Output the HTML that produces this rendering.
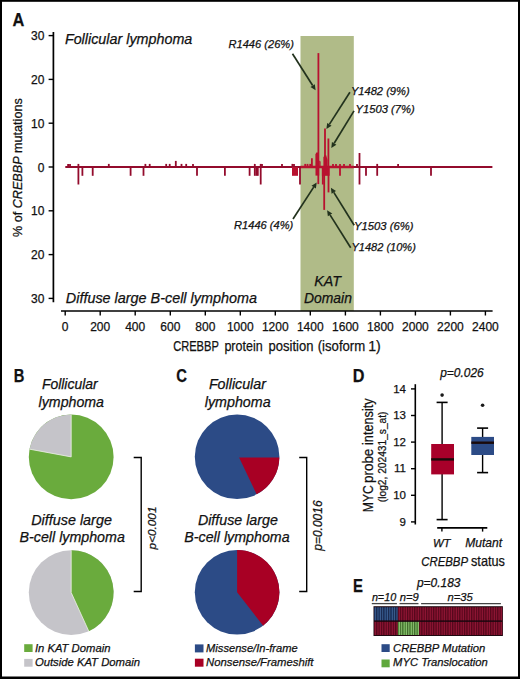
<!DOCTYPE html>
<html><head><meta charset="utf-8"><style>
html,body{margin:0;padding:0;background:#fff;}
body{width:520px;height:679px;overflow:hidden;position:relative;}
svg{position:absolute;left:0;top:0;}
text{font-family:"Liberation Sans", sans-serif;fill:#111;stroke:#111;stroke-width:0.25px;}
</style></head><body>
<svg width="520" height="679" viewBox="0 0 520 679">
<rect x="0" y="0" width="520" height="679" fill="#fff"/>
<rect x="300.5" y="36" width="53.3" height="275" fill="#b0bb88"/>
<line x1="53.4" y1="32" x2="53.4" y2="302.3" stroke="#000" stroke-width="1.7"/>
<line x1="48.6" y1="35.6" x2="53.4" y2="35.6" stroke="#000" stroke-width="1.4"/>
<text x="44.4" y="40.2" text-anchor="end" font-size="12">30</text>
<line x1="48.6" y1="79.4" x2="53.4" y2="79.4" stroke="#000" stroke-width="1.4"/>
<text x="44.4" y="84.0" text-anchor="end" font-size="12">20</text>
<line x1="48.6" y1="123.2" x2="53.4" y2="123.2" stroke="#000" stroke-width="1.4"/>
<text x="44.4" y="127.8" text-anchor="end" font-size="12">10</text>
<line x1="48.6" y1="167.0" x2="53.4" y2="167.0" stroke="#000" stroke-width="1.4"/>
<text x="44.4" y="171.6" text-anchor="end" font-size="12">0</text>
<line x1="48.6" y1="210.8" x2="53.4" y2="210.8" stroke="#000" stroke-width="1.4"/>
<text x="44.4" y="215.4" text-anchor="end" font-size="12">10</text>
<line x1="48.6" y1="254.6" x2="53.4" y2="254.6" stroke="#000" stroke-width="1.4"/>
<text x="44.4" y="259.2" text-anchor="end" font-size="12">20</text>
<line x1="48.6" y1="298.4" x2="53.4" y2="298.4" stroke="#000" stroke-width="1.4"/>
<text x="44.4" y="303.0" text-anchor="end" font-size="12">30</text>
<line x1="61" y1="311" x2="492.6" y2="311" stroke="#000" stroke-width="1.7"/>
<line x1="65.2" y1="311" x2="65.2" y2="315.5" stroke="#000" stroke-width="1.4"/>
<text x="65.2" y="330.8" text-anchor="middle" font-size="12">0</text>
<line x1="100.2" y1="311" x2="100.2" y2="315.5" stroke="#000" stroke-width="1.4"/>
<text x="100.2" y="330.8" text-anchor="middle" font-size="12">200</text>
<line x1="135.2" y1="311" x2="135.2" y2="315.5" stroke="#000" stroke-width="1.4"/>
<text x="135.2" y="330.8" text-anchor="middle" font-size="12">400</text>
<line x1="170.3" y1="311" x2="170.3" y2="315.5" stroke="#000" stroke-width="1.4"/>
<text x="170.3" y="330.8" text-anchor="middle" font-size="12">600</text>
<line x1="205.3" y1="311" x2="205.3" y2="315.5" stroke="#000" stroke-width="1.4"/>
<text x="205.3" y="330.8" text-anchor="middle" font-size="12">800</text>
<line x1="240.3" y1="311" x2="240.3" y2="315.5" stroke="#000" stroke-width="1.4"/>
<text x="240.3" y="330.8" text-anchor="middle" font-size="12">1000</text>
<line x1="275.3" y1="311" x2="275.3" y2="315.5" stroke="#000" stroke-width="1.4"/>
<text x="275.3" y="330.8" text-anchor="middle" font-size="12">1200</text>
<line x1="310.3" y1="311" x2="310.3" y2="315.5" stroke="#000" stroke-width="1.4"/>
<text x="310.3" y="330.8" text-anchor="middle" font-size="12">1400</text>
<line x1="345.4" y1="311" x2="345.4" y2="315.5" stroke="#000" stroke-width="1.4"/>
<text x="345.4" y="330.8" text-anchor="middle" font-size="12">1600</text>
<line x1="380.4" y1="311" x2="380.4" y2="315.5" stroke="#000" stroke-width="1.4"/>
<text x="380.4" y="330.8" text-anchor="middle" font-size="12">1800</text>
<line x1="415.4" y1="311" x2="415.4" y2="315.5" stroke="#000" stroke-width="1.4"/>
<text x="415.4" y="330.8" text-anchor="middle" font-size="12">2000</text>
<line x1="450.4" y1="311" x2="450.4" y2="315.5" stroke="#000" stroke-width="1.4"/>
<text x="450.4" y="330.8" text-anchor="middle" font-size="12">2200</text>
<line x1="485.4" y1="311" x2="485.4" y2="315.5" stroke="#000" stroke-width="1.4"/>
<text x="485.4" y="330.8" text-anchor="middle" font-size="12">2400</text>
<line x1="65.3" y1="167.0" x2="492.4" y2="167.0" stroke="#930b2c" stroke-width="2.1"/>
<line x1="300.5" y1="167.0" x2="353.8" y2="167.0" stroke="#b8112f" stroke-width="2.3"/>
<line x1="68.1" y1="167.0" x2="68.1" y2="163.9" stroke="#930b2c" stroke-width="1.8"/>
<line x1="70.0" y1="167.0" x2="70.0" y2="163.9" stroke="#930b2c" stroke-width="1.8"/>
<line x1="78.4" y1="167.0" x2="78.4" y2="163.9" stroke="#930b2c" stroke-width="1.8"/>
<line x1="108.8" y1="167.0" x2="108.8" y2="163.9" stroke="#930b2c" stroke-width="1.8"/>
<line x1="145.4" y1="167.0" x2="145.4" y2="163.9" stroke="#930b2c" stroke-width="1.8"/>
<line x1="149.7" y1="167.0" x2="149.7" y2="163.9" stroke="#930b2c" stroke-width="1.8"/>
<line x1="166.2" y1="167.0" x2="166.2" y2="163.9" stroke="#930b2c" stroke-width="1.8"/>
<line x1="169.7" y1="167.0" x2="169.7" y2="163.9" stroke="#930b2c" stroke-width="1.8"/>
<line x1="181.5" y1="167.0" x2="181.5" y2="163.9" stroke="#930b2c" stroke-width="1.8"/>
<line x1="186.2" y1="167.0" x2="186.2" y2="163.9" stroke="#930b2c" stroke-width="1.8"/>
<line x1="193.0" y1="167.0" x2="193.0" y2="163.9" stroke="#930b2c" stroke-width="1.8"/>
<line x1="254.8" y1="167.0" x2="254.8" y2="163.9" stroke="#930b2c" stroke-width="1.8"/>
<line x1="260.7" y1="167.0" x2="260.7" y2="163.9" stroke="#930b2c" stroke-width="1.8"/>
<line x1="262.0" y1="167.0" x2="262.0" y2="163.9" stroke="#930b2c" stroke-width="1.8"/>
<line x1="282.0" y1="167.0" x2="282.0" y2="163.9" stroke="#930b2c" stroke-width="1.8"/>
<line x1="292.4" y1="167.0" x2="292.4" y2="163.9" stroke="#930b2c" stroke-width="1.8"/>
<line x1="294.0" y1="167.0" x2="294.0" y2="163.9" stroke="#930b2c" stroke-width="1.8"/>
<line x1="357.0" y1="167.0" x2="357.0" y2="163.9" stroke="#930b2c" stroke-width="1.8"/>
<line x1="377.2" y1="167.0" x2="377.2" y2="163.9" stroke="#930b2c" stroke-width="1.8"/>
<line x1="398.1" y1="167.0" x2="398.1" y2="163.9" stroke="#930b2c" stroke-width="1.8"/>
<line x1="305.2" y1="167.0" x2="305.2" y2="163.9" stroke="#b8112f" stroke-width="1.8"/>
<line x1="307.5" y1="167.0" x2="307.5" y2="163.9" stroke="#b8112f" stroke-width="1.8"/>
<line x1="310.2" y1="167.0" x2="310.2" y2="163.9" stroke="#b8112f" stroke-width="1.8"/>
<line x1="333.0" y1="167.0" x2="333.0" y2="163.9" stroke="#b8112f" stroke-width="1.8"/>
<line x1="336.0" y1="167.0" x2="336.0" y2="163.9" stroke="#b8112f" stroke-width="1.8"/>
<line x1="340.0" y1="167.0" x2="340.0" y2="163.9" stroke="#b8112f" stroke-width="1.8"/>
<line x1="344.0" y1="167.0" x2="344.0" y2="163.9" stroke="#b8112f" stroke-width="1.8"/>
<line x1="350.0" y1="167.0" x2="350.0" y2="163.9" stroke="#b8112f" stroke-width="1.8"/>
<line x1="175.8" y1="167.0" x2="175.8" y2="160.9" stroke="#930b2c" stroke-width="1.8"/>
<line x1="311.9" y1="167.0" x2="311.9" y2="158.2" stroke="#b8112f" stroke-width="1.8"/>
<line x1="318.4" y1="167.0" x2="318.4" y2="53.1" stroke="#b8112f" stroke-width="1.8"/>
<line x1="325.0" y1="167.0" x2="325.0" y2="128.5" stroke="#b8112f" stroke-width="1.8"/>
<line x1="328.4" y1="167.0" x2="328.4" y2="138.5" stroke="#b8112f" stroke-width="1.8"/>
<line x1="359.5" y1="167.0" x2="359.5" y2="153.0" stroke="#930b2c" stroke-width="1.8"/>
<line x1="78.4" y1="167.0" x2="78.4" y2="184.5" stroke="#930b2c" stroke-width="1.8"/>
<line x1="82.4" y1="167.0" x2="82.4" y2="175.8" stroke="#930b2c" stroke-width="1.8"/>
<line x1="92.7" y1="167.0" x2="92.7" y2="175.8" stroke="#930b2c" stroke-width="1.8"/>
<line x1="130.6" y1="167.0" x2="130.6" y2="175.8" stroke="#930b2c" stroke-width="1.8"/>
<line x1="143.5" y1="167.0" x2="143.5" y2="175.8" stroke="#930b2c" stroke-width="1.8"/>
<line x1="197.0" y1="167.0" x2="197.0" y2="175.8" stroke="#930b2c" stroke-width="1.8"/>
<line x1="224.9" y1="167.0" x2="224.9" y2="175.8" stroke="#930b2c" stroke-width="1.8"/>
<line x1="249.6" y1="167.0" x2="249.6" y2="175.8" stroke="#930b2c" stroke-width="1.8"/>
<line x1="254.8" y1="167.0" x2="254.8" y2="175.8" stroke="#930b2c" stroke-width="1.8"/>
<line x1="256.4" y1="167.0" x2="256.4" y2="175.8" stroke="#930b2c" stroke-width="1.8"/>
<line x1="257.8" y1="167.0" x2="257.8" y2="175.8" stroke="#930b2c" stroke-width="1.8"/>
<line x1="260.7" y1="167.0" x2="260.7" y2="184.5" stroke="#930b2c" stroke-width="1.8"/>
<line x1="300.0" y1="167.0" x2="300.0" y2="184.5" stroke="#930b2c" stroke-width="1.8"/>
<line x1="318.3" y1="167.0" x2="318.3" y2="184.1" stroke="#b8112f" stroke-width="1.8"/>
<line x1="322.8" y1="167.0" x2="322.8" y2="184.5" stroke="#b8112f" stroke-width="1.8"/>
<line x1="324.2" y1="167.0" x2="324.2" y2="209.9" stroke="#b8112f" stroke-width="1.8"/>
<line x1="328.5" y1="167.0" x2="328.5" y2="192.4" stroke="#b8112f" stroke-width="1.8"/>
<line x1="340.0" y1="167.0" x2="340.0" y2="175.8" stroke="#b8112f" stroke-width="1.8"/>
<line x1="359.5" y1="167.0" x2="359.5" y2="184.5" stroke="#930b2c" stroke-width="1.8"/>
<line x1="366.0" y1="167.0" x2="366.0" y2="175.8" stroke="#930b2c" stroke-width="1.8"/>
<line x1="377.2" y1="167.0" x2="377.2" y2="175.8" stroke="#930b2c" stroke-width="1.8"/>
<line x1="431.0" y1="167.0" x2="431.0" y2="175.8" stroke="#930b2c" stroke-width="1.8"/>
<polygon points="315.4,167 315.4,154.6 316.3,152.4 318.2,152.4 318.2,167" fill="#b8112f"/>
<polygon points="319.2,167 319.2,160.5 320.6,161.5 320.6,167" fill="#b8112f"/>
<polygon points="323.4,167 323.4,157.5 324.5,155.2 326.2,155.2 327.6,160 327.6,167" fill="#b8112f"/>
<polygon points="315.5,167 315.5,175.6 319.2,175.6 319.2,167" fill="#b8112f"/>
<polygon points="292.0,167 292.0,175.8 298.0,175.8 298.0,167" fill="#b8112f"/>
<polygon points="321.9,167 321.9,175.8 329.6,175.8 329.6,167" fill="#b8112f"/>
<line x1="292.5" y1="53.7" x2="312.66" y2="85.55" stroke="#22321d" stroke-width="1.7"/>
<polygon points="315.6,90.2 310.46,86.94 314.86,84.16" fill="#22321d"/>
<line x1="349.9" y1="92.2" x2="329.36" y2="124.36" stroke="#22321d" stroke-width="1.7"/>
<polygon points="326.4,129 327.17,122.97 331.55,125.76" fill="#22321d"/>
<line x1="354" y1="110.9" x2="334.17" y2="143.31" stroke="#22321d" stroke-width="1.7"/>
<polygon points="331.3,148 331.95,141.95 336.39,144.67" fill="#22321d"/>
<line x1="293" y1="219" x2="313.70" y2="187.11" stroke="#22321d" stroke-width="1.7"/>
<polygon points="316.7,182.5 315.89,188.53 311.52,185.70" fill="#22321d"/>
<line x1="354.2" y1="225.2" x2="333.80" y2="192.37" stroke="#22321d" stroke-width="1.7"/>
<polygon points="330.9,187.7 336.01,191.00 331.59,193.74" fill="#22321d"/>
<line x1="350.7" y1="247.7" x2="330.03" y2="214.85" stroke="#22321d" stroke-width="1.7"/>
<polygon points="327.1,210.2 332.23,213.47 327.83,216.24" fill="#22321d"/>
<circle cx="71.2" cy="456.9" r="42.4" fill="#6aab3d"/>
<path d="M71.2,456.9 L29.51,449.17 A42.4,42.4 0 0 1 71.20,414.50 Z" fill="#c5c4c9"/>
<circle cx="71.2" cy="592.6" r="42.4" fill="#c5c4c9"/>
<path d="M71.2,592.6 L71.20,550.20 A42.4,42.4 0 0 1 88.78,631.18 Z" fill="#6aab3d"/>
<line x1="71.2" y1="456.9" x2="29.51" y2="449.17" stroke="#eef3e6" stroke-width="0.8"/>
<line x1="71.2" y1="456.9" x2="71.20" y2="414.50" stroke="#eef3e6" stroke-width="0.8"/>
<line x1="71.2" y1="592.6" x2="88.78" y2="631.18" stroke="#eef3e6" stroke-width="0.8"/>
<line x1="71.2" y1="592.6" x2="71.20" y2="550.20" stroke="#eef3e6" stroke-width="0.8"/>
<circle cx="237.1" cy="456.8" r="42.3" fill="#2c4b86"/>
<path d="M239.1,457.4 L279.4,457.4 A42.3,42.3 0 0 1 256.63,494.32 Z" fill="#a80024"/>
<circle cx="237.1" cy="592.3" r="42.3" fill="#2c4b86"/>
<path d="M237.1,592.3 L237.10,550.00 A42.3,42.3 0 0 1 263.14,625.63 Z" fill="#a80024"/>
<path d="M133.7,457.5 H141.2 V591.5 H133.7" fill="none" stroke="#000" stroke-width="1.4"/>
<path d="M299.2,457.5 H306.7 V591.5 H299.2" fill="none" stroke="#000" stroke-width="1.4"/>
<rect x="24.2" y="644.2" width="8.4" height="7.8" fill="#6aab3d"/>
<rect x="24.2" y="658.9" width="8.4" height="7.8" fill="#c5c4c9"/>
<rect x="194.9" y="644.4" width="8.6" height="8" fill="#2c4b86"/>
<rect x="194.9" y="658.7" width="8.6" height="8" fill="#a80024"/>
<line x1="415.3" y1="384.2" x2="415.3" y2="524.5" stroke="#000" stroke-width="1.6"/>
<line x1="411" y1="521.9" x2="415.3" y2="521.9" stroke="#000" stroke-width="1.4"/>
<text x="406.0" y="525.5" text-anchor="end" font-size="11.5">9</text>
<line x1="411" y1="495.3" x2="415.3" y2="495.3" stroke="#000" stroke-width="1.4"/>
<text x="406.0" y="498.9" text-anchor="end" font-size="11.5">10</text>
<line x1="411" y1="468.7" x2="415.3" y2="468.7" stroke="#000" stroke-width="1.4"/>
<text x="406.0" y="472.3" text-anchor="end" font-size="11.5">11</text>
<line x1="411" y1="442.1" x2="415.3" y2="442.1" stroke="#000" stroke-width="1.4"/>
<text x="406.0" y="445.7" text-anchor="end" font-size="11.5">12</text>
<line x1="411" y1="415.5" x2="415.3" y2="415.5" stroke="#000" stroke-width="1.4"/>
<text x="406.0" y="419.1" text-anchor="end" font-size="11.5">13</text>
<line x1="411" y1="388.9" x2="415.3" y2="388.9" stroke="#000" stroke-width="1.4"/>
<text x="406.0" y="392.5" text-anchor="end" font-size="11.5">14</text>
<line x1="437.2" y1="527.8" x2="487.3" y2="527.8" stroke="#000" stroke-width="1.8"/>
<line x1="441.9" y1="527.8" x2="441.9" y2="531.6" stroke="#000" stroke-width="1.4"/>
<line x1="482.6" y1="527.8" x2="482.6" y2="531.6" stroke="#000" stroke-width="1.4"/>
<line x1="442.1" y1="402.4" x2="442.1" y2="519.6" stroke="#000" stroke-width="1.4"/>
<line x1="436.6" y1="402.4" x2="447.6" y2="402.4" stroke="#000" stroke-width="1.6"/>
<line x1="436.6" y1="519.6" x2="447.6" y2="519.6" stroke="#000" stroke-width="1.6"/>
<rect x="431.2" y="444" width="22.80000000000001" height="30.399999999999977" fill="#a8002a"/>
<line x1="431.2" y1="459.4" x2="454" y2="459.4" stroke="#1a0a0a" stroke-width="2.4"/>
<circle cx="442.1" cy="395.1" r="1.8" fill="#1a1a1a"/>
<line x1="482.6" y1="428.1" x2="482.6" y2="472.6" stroke="#000" stroke-width="1.4"/>
<line x1="477.1" y1="428.1" x2="488.1" y2="428.1" stroke="#000" stroke-width="1.6"/>
<line x1="477.1" y1="472.6" x2="488.1" y2="472.6" stroke="#000" stroke-width="1.6"/>
<rect x="471.3" y="436.9" width="22.69999999999999" height="18.100000000000023" fill="#2c4b86"/>
<line x1="471.3" y1="442.7" x2="494" y2="442.7" stroke="#1a0a0a" stroke-width="2.4"/>
<circle cx="482.6" cy="405.2" r="1.8" fill="#1a1a1a"/>
<line x1="371.8" y1="603.6" x2="396.9" y2="603.6" stroke="#444" stroke-width="1.3"/>
<line x1="399.5" y1="603.6" x2="418.5" y2="603.6" stroke="#444" stroke-width="1.3"/>
<line x1="421.1" y1="603.6" x2="500.9" y2="603.6" stroke="#444" stroke-width="1.3"/>
<rect x="373.5" y="606.2" width="129.39999999999998" height="29.8" fill="#1e0810"/>
<rect x="374.10" y="607.3" width="2.39" height="13.0" fill="#1c3562"/>
<rect x="375.30" y="607.3" width="0.75" height="13.0" fill="#44699c"/>
<rect x="376.47" y="607.3" width="2.39" height="13.0" fill="#1c3562"/>
<rect x="377.67" y="607.3" width="0.75" height="13.0" fill="#44699c"/>
<rect x="378.85" y="607.3" width="2.39" height="13.0" fill="#1c3562"/>
<rect x="380.05" y="607.3" width="0.75" height="13.0" fill="#44699c"/>
<rect x="381.22" y="607.3" width="2.39" height="13.0" fill="#1c3562"/>
<rect x="382.42" y="607.3" width="0.75" height="13.0" fill="#44699c"/>
<rect x="383.60" y="607.3" width="2.39" height="13.0" fill="#1c3562"/>
<rect x="384.80" y="607.3" width="0.75" height="13.0" fill="#44699c"/>
<rect x="385.97" y="607.3" width="2.39" height="13.0" fill="#1c3562"/>
<rect x="387.17" y="607.3" width="0.75" height="13.0" fill="#44699c"/>
<rect x="388.34" y="607.3" width="2.39" height="13.0" fill="#1c3562"/>
<rect x="389.54" y="607.3" width="0.75" height="13.0" fill="#44699c"/>
<rect x="390.72" y="607.3" width="2.39" height="13.0" fill="#1c3562"/>
<rect x="391.92" y="607.3" width="0.75" height="13.0" fill="#44699c"/>
<rect x="393.09" y="607.3" width="2.39" height="13.0" fill="#1c3562"/>
<rect x="394.29" y="607.3" width="0.75" height="13.0" fill="#44699c"/>
<rect x="395.47" y="607.3" width="2.39" height="13.0" fill="#1c3562"/>
<rect x="396.67" y="607.3" width="0.75" height="13.0" fill="#44699c"/>
<rect x="397.84" y="607.3" width="2.39" height="13.0" fill="#680a22"/>
<rect x="399.04" y="607.3" width="0.75" height="13.0" fill="#981a3a"/>
<rect x="400.21" y="607.3" width="2.39" height="13.0" fill="#680a22"/>
<rect x="401.41" y="607.3" width="0.75" height="13.0" fill="#981a3a"/>
<rect x="402.59" y="607.3" width="2.39" height="13.0" fill="#680a22"/>
<rect x="403.79" y="607.3" width="0.75" height="13.0" fill="#981a3a"/>
<rect x="404.96" y="607.3" width="2.39" height="13.0" fill="#680a22"/>
<rect x="406.16" y="607.3" width="0.75" height="13.0" fill="#981a3a"/>
<rect x="407.34" y="607.3" width="2.39" height="13.0" fill="#680a22"/>
<rect x="408.54" y="607.3" width="0.75" height="13.0" fill="#981a3a"/>
<rect x="409.71" y="607.3" width="2.39" height="13.0" fill="#680a22"/>
<rect x="410.91" y="607.3" width="0.75" height="13.0" fill="#981a3a"/>
<rect x="412.09" y="607.3" width="2.39" height="13.0" fill="#680a22"/>
<rect x="413.29" y="607.3" width="0.75" height="13.0" fill="#981a3a"/>
<rect x="414.46" y="607.3" width="2.39" height="13.0" fill="#680a22"/>
<rect x="415.66" y="607.3" width="0.75" height="13.0" fill="#981a3a"/>
<rect x="416.83" y="607.3" width="2.39" height="13.0" fill="#680a22"/>
<rect x="418.03" y="607.3" width="0.75" height="13.0" fill="#981a3a"/>
<rect x="419.21" y="607.3" width="2.39" height="13.0" fill="#680a22"/>
<rect x="420.41" y="607.3" width="0.75" height="13.0" fill="#981a3a"/>
<rect x="421.58" y="607.3" width="2.39" height="13.0" fill="#680a22"/>
<rect x="422.78" y="607.3" width="0.75" height="13.0" fill="#981a3a"/>
<rect x="423.96" y="607.3" width="2.39" height="13.0" fill="#680a22"/>
<rect x="425.16" y="607.3" width="0.75" height="13.0" fill="#981a3a"/>
<rect x="426.33" y="607.3" width="2.39" height="13.0" fill="#680a22"/>
<rect x="427.53" y="607.3" width="0.75" height="13.0" fill="#981a3a"/>
<rect x="428.70" y="607.3" width="2.39" height="13.0" fill="#680a22"/>
<rect x="429.90" y="607.3" width="0.75" height="13.0" fill="#981a3a"/>
<rect x="431.08" y="607.3" width="2.39" height="13.0" fill="#680a22"/>
<rect x="432.28" y="607.3" width="0.75" height="13.0" fill="#981a3a"/>
<rect x="433.45" y="607.3" width="2.39" height="13.0" fill="#680a22"/>
<rect x="434.65" y="607.3" width="0.75" height="13.0" fill="#981a3a"/>
<rect x="435.83" y="607.3" width="2.39" height="13.0" fill="#680a22"/>
<rect x="437.03" y="607.3" width="0.75" height="13.0" fill="#981a3a"/>
<rect x="438.20" y="607.3" width="2.39" height="13.0" fill="#680a22"/>
<rect x="439.40" y="607.3" width="0.75" height="13.0" fill="#981a3a"/>
<rect x="440.57" y="607.3" width="2.39" height="13.0" fill="#680a22"/>
<rect x="441.77" y="607.3" width="0.75" height="13.0" fill="#981a3a"/>
<rect x="442.95" y="607.3" width="2.39" height="13.0" fill="#680a22"/>
<rect x="444.15" y="607.3" width="0.75" height="13.0" fill="#981a3a"/>
<rect x="445.32" y="607.3" width="2.39" height="13.0" fill="#680a22"/>
<rect x="446.52" y="607.3" width="0.75" height="13.0" fill="#981a3a"/>
<rect x="447.70" y="607.3" width="2.39" height="13.0" fill="#680a22"/>
<rect x="448.90" y="607.3" width="0.75" height="13.0" fill="#981a3a"/>
<rect x="450.07" y="607.3" width="2.39" height="13.0" fill="#680a22"/>
<rect x="451.27" y="607.3" width="0.75" height="13.0" fill="#981a3a"/>
<rect x="452.44" y="607.3" width="2.39" height="13.0" fill="#680a22"/>
<rect x="453.64" y="607.3" width="0.75" height="13.0" fill="#981a3a"/>
<rect x="454.82" y="607.3" width="2.39" height="13.0" fill="#680a22"/>
<rect x="456.02" y="607.3" width="0.75" height="13.0" fill="#981a3a"/>
<rect x="457.19" y="607.3" width="2.39" height="13.0" fill="#680a22"/>
<rect x="458.39" y="607.3" width="0.75" height="13.0" fill="#981a3a"/>
<rect x="459.57" y="607.3" width="2.39" height="13.0" fill="#680a22"/>
<rect x="460.77" y="607.3" width="0.75" height="13.0" fill="#981a3a"/>
<rect x="461.94" y="607.3" width="2.39" height="13.0" fill="#680a22"/>
<rect x="463.14" y="607.3" width="0.75" height="13.0" fill="#981a3a"/>
<rect x="464.31" y="607.3" width="2.39" height="13.0" fill="#680a22"/>
<rect x="465.51" y="607.3" width="0.75" height="13.0" fill="#981a3a"/>
<rect x="466.69" y="607.3" width="2.39" height="13.0" fill="#680a22"/>
<rect x="467.89" y="607.3" width="0.75" height="13.0" fill="#981a3a"/>
<rect x="469.06" y="607.3" width="2.39" height="13.0" fill="#680a22"/>
<rect x="470.26" y="607.3" width="0.75" height="13.0" fill="#981a3a"/>
<rect x="471.44" y="607.3" width="2.39" height="13.0" fill="#680a22"/>
<rect x="472.64" y="607.3" width="0.75" height="13.0" fill="#981a3a"/>
<rect x="473.81" y="607.3" width="2.39" height="13.0" fill="#680a22"/>
<rect x="475.01" y="607.3" width="0.75" height="13.0" fill="#981a3a"/>
<rect x="476.19" y="607.3" width="2.39" height="13.0" fill="#680a22"/>
<rect x="477.39" y="607.3" width="0.75" height="13.0" fill="#981a3a"/>
<rect x="478.56" y="607.3" width="2.39" height="13.0" fill="#680a22"/>
<rect x="479.76" y="607.3" width="0.75" height="13.0" fill="#981a3a"/>
<rect x="480.93" y="607.3" width="2.39" height="13.0" fill="#680a22"/>
<rect x="482.13" y="607.3" width="0.75" height="13.0" fill="#981a3a"/>
<rect x="483.31" y="607.3" width="2.39" height="13.0" fill="#680a22"/>
<rect x="484.51" y="607.3" width="0.75" height="13.0" fill="#981a3a"/>
<rect x="485.68" y="607.3" width="2.39" height="13.0" fill="#680a22"/>
<rect x="486.88" y="607.3" width="0.75" height="13.0" fill="#981a3a"/>
<rect x="488.06" y="607.3" width="2.39" height="13.0" fill="#680a22"/>
<rect x="489.26" y="607.3" width="0.75" height="13.0" fill="#981a3a"/>
<rect x="490.43" y="607.3" width="2.39" height="13.0" fill="#680a22"/>
<rect x="491.63" y="607.3" width="0.75" height="13.0" fill="#981a3a"/>
<rect x="492.80" y="607.3" width="2.39" height="13.0" fill="#680a22"/>
<rect x="494.00" y="607.3" width="0.75" height="13.0" fill="#981a3a"/>
<rect x="495.18" y="607.3" width="2.39" height="13.0" fill="#680a22"/>
<rect x="496.38" y="607.3" width="0.75" height="13.0" fill="#981a3a"/>
<rect x="497.55" y="607.3" width="2.39" height="13.0" fill="#680a22"/>
<rect x="498.75" y="607.3" width="0.75" height="13.0" fill="#981a3a"/>
<rect x="499.93" y="607.3" width="2.39" height="13.0" fill="#680a22"/>
<rect x="501.13" y="607.3" width="0.75" height="13.0" fill="#981a3a"/>
<rect x="374.10" y="621.9" width="2.39" height="13.1" fill="#680a22"/>
<rect x="375.30" y="621.9" width="0.75" height="13.1" fill="#981a3a"/>
<rect x="376.47" y="621.9" width="2.39" height="13.1" fill="#680a22"/>
<rect x="377.67" y="621.9" width="0.75" height="13.1" fill="#981a3a"/>
<rect x="378.85" y="621.9" width="2.39" height="13.1" fill="#680a22"/>
<rect x="380.05" y="621.9" width="0.75" height="13.1" fill="#981a3a"/>
<rect x="381.22" y="621.9" width="2.39" height="13.1" fill="#680a22"/>
<rect x="382.42" y="621.9" width="0.75" height="13.1" fill="#981a3a"/>
<rect x="383.60" y="621.9" width="2.39" height="13.1" fill="#680a22"/>
<rect x="384.80" y="621.9" width="0.75" height="13.1" fill="#981a3a"/>
<rect x="385.97" y="621.9" width="2.39" height="13.1" fill="#680a22"/>
<rect x="387.17" y="621.9" width="0.75" height="13.1" fill="#981a3a"/>
<rect x="388.34" y="621.9" width="2.39" height="13.1" fill="#680a22"/>
<rect x="389.54" y="621.9" width="0.75" height="13.1" fill="#981a3a"/>
<rect x="390.72" y="621.9" width="2.39" height="13.1" fill="#680a22"/>
<rect x="391.92" y="621.9" width="0.75" height="13.1" fill="#981a3a"/>
<rect x="393.09" y="621.9" width="2.39" height="13.1" fill="#680a22"/>
<rect x="394.29" y="621.9" width="0.75" height="13.1" fill="#981a3a"/>
<rect x="395.47" y="621.9" width="2.39" height="13.1" fill="#680a22"/>
<rect x="396.67" y="621.9" width="0.75" height="13.1" fill="#981a3a"/>
<rect x="397.84" y="621.9" width="2.39" height="13.1" fill="#4f8a38"/>
<rect x="399.04" y="621.9" width="0.75" height="13.1" fill="#9ccc80"/>
<rect x="400.21" y="621.9" width="2.39" height="13.1" fill="#4f8a38"/>
<rect x="401.41" y="621.9" width="0.75" height="13.1" fill="#9ccc80"/>
<rect x="402.59" y="621.9" width="2.39" height="13.1" fill="#4f8a38"/>
<rect x="403.79" y="621.9" width="0.75" height="13.1" fill="#9ccc80"/>
<rect x="404.96" y="621.9" width="2.39" height="13.1" fill="#4f8a38"/>
<rect x="406.16" y="621.9" width="0.75" height="13.1" fill="#9ccc80"/>
<rect x="407.34" y="621.9" width="2.39" height="13.1" fill="#4f8a38"/>
<rect x="408.54" y="621.9" width="0.75" height="13.1" fill="#9ccc80"/>
<rect x="409.71" y="621.9" width="2.39" height="13.1" fill="#4f8a38"/>
<rect x="410.91" y="621.9" width="0.75" height="13.1" fill="#9ccc80"/>
<rect x="412.09" y="621.9" width="2.39" height="13.1" fill="#4f8a38"/>
<rect x="413.29" y="621.9" width="0.75" height="13.1" fill="#9ccc80"/>
<rect x="414.46" y="621.9" width="2.39" height="13.1" fill="#4f8a38"/>
<rect x="415.66" y="621.9" width="0.75" height="13.1" fill="#9ccc80"/>
<rect x="416.83" y="621.9" width="2.39" height="13.1" fill="#4f8a38"/>
<rect x="418.03" y="621.9" width="0.75" height="13.1" fill="#9ccc80"/>
<rect x="419.21" y="621.9" width="2.39" height="13.1" fill="#680a22"/>
<rect x="420.41" y="621.9" width="0.75" height="13.1" fill="#981a3a"/>
<rect x="421.58" y="621.9" width="2.39" height="13.1" fill="#680a22"/>
<rect x="422.78" y="621.9" width="0.75" height="13.1" fill="#981a3a"/>
<rect x="423.96" y="621.9" width="2.39" height="13.1" fill="#680a22"/>
<rect x="425.16" y="621.9" width="0.75" height="13.1" fill="#981a3a"/>
<rect x="426.33" y="621.9" width="2.39" height="13.1" fill="#680a22"/>
<rect x="427.53" y="621.9" width="0.75" height="13.1" fill="#981a3a"/>
<rect x="428.70" y="621.9" width="2.39" height="13.1" fill="#680a22"/>
<rect x="429.90" y="621.9" width="0.75" height="13.1" fill="#981a3a"/>
<rect x="431.08" y="621.9" width="2.39" height="13.1" fill="#680a22"/>
<rect x="432.28" y="621.9" width="0.75" height="13.1" fill="#981a3a"/>
<rect x="433.45" y="621.9" width="2.39" height="13.1" fill="#680a22"/>
<rect x="434.65" y="621.9" width="0.75" height="13.1" fill="#981a3a"/>
<rect x="435.83" y="621.9" width="2.39" height="13.1" fill="#680a22"/>
<rect x="437.03" y="621.9" width="0.75" height="13.1" fill="#981a3a"/>
<rect x="438.20" y="621.9" width="2.39" height="13.1" fill="#680a22"/>
<rect x="439.40" y="621.9" width="0.75" height="13.1" fill="#981a3a"/>
<rect x="440.57" y="621.9" width="2.39" height="13.1" fill="#680a22"/>
<rect x="441.77" y="621.9" width="0.75" height="13.1" fill="#981a3a"/>
<rect x="442.95" y="621.9" width="2.39" height="13.1" fill="#680a22"/>
<rect x="444.15" y="621.9" width="0.75" height="13.1" fill="#981a3a"/>
<rect x="445.32" y="621.9" width="2.39" height="13.1" fill="#680a22"/>
<rect x="446.52" y="621.9" width="0.75" height="13.1" fill="#981a3a"/>
<rect x="447.70" y="621.9" width="2.39" height="13.1" fill="#680a22"/>
<rect x="448.90" y="621.9" width="0.75" height="13.1" fill="#981a3a"/>
<rect x="450.07" y="621.9" width="2.39" height="13.1" fill="#680a22"/>
<rect x="451.27" y="621.9" width="0.75" height="13.1" fill="#981a3a"/>
<rect x="452.44" y="621.9" width="2.39" height="13.1" fill="#680a22"/>
<rect x="453.64" y="621.9" width="0.75" height="13.1" fill="#981a3a"/>
<rect x="454.82" y="621.9" width="2.39" height="13.1" fill="#680a22"/>
<rect x="456.02" y="621.9" width="0.75" height="13.1" fill="#981a3a"/>
<rect x="457.19" y="621.9" width="2.39" height="13.1" fill="#680a22"/>
<rect x="458.39" y="621.9" width="0.75" height="13.1" fill="#981a3a"/>
<rect x="459.57" y="621.9" width="2.39" height="13.1" fill="#680a22"/>
<rect x="460.77" y="621.9" width="0.75" height="13.1" fill="#981a3a"/>
<rect x="461.94" y="621.9" width="2.39" height="13.1" fill="#680a22"/>
<rect x="463.14" y="621.9" width="0.75" height="13.1" fill="#981a3a"/>
<rect x="464.31" y="621.9" width="2.39" height="13.1" fill="#680a22"/>
<rect x="465.51" y="621.9" width="0.75" height="13.1" fill="#981a3a"/>
<rect x="466.69" y="621.9" width="2.39" height="13.1" fill="#680a22"/>
<rect x="467.89" y="621.9" width="0.75" height="13.1" fill="#981a3a"/>
<rect x="469.06" y="621.9" width="2.39" height="13.1" fill="#680a22"/>
<rect x="470.26" y="621.9" width="0.75" height="13.1" fill="#981a3a"/>
<rect x="471.44" y="621.9" width="2.39" height="13.1" fill="#680a22"/>
<rect x="472.64" y="621.9" width="0.75" height="13.1" fill="#981a3a"/>
<rect x="473.81" y="621.9" width="2.39" height="13.1" fill="#680a22"/>
<rect x="475.01" y="621.9" width="0.75" height="13.1" fill="#981a3a"/>
<rect x="476.19" y="621.9" width="2.39" height="13.1" fill="#680a22"/>
<rect x="477.39" y="621.9" width="0.75" height="13.1" fill="#981a3a"/>
<rect x="478.56" y="621.9" width="2.39" height="13.1" fill="#680a22"/>
<rect x="479.76" y="621.9" width="0.75" height="13.1" fill="#981a3a"/>
<rect x="480.93" y="621.9" width="2.39" height="13.1" fill="#680a22"/>
<rect x="482.13" y="621.9" width="0.75" height="13.1" fill="#981a3a"/>
<rect x="483.31" y="621.9" width="2.39" height="13.1" fill="#680a22"/>
<rect x="484.51" y="621.9" width="0.75" height="13.1" fill="#981a3a"/>
<rect x="485.68" y="621.9" width="2.39" height="13.1" fill="#680a22"/>
<rect x="486.88" y="621.9" width="0.75" height="13.1" fill="#981a3a"/>
<rect x="488.06" y="621.9" width="2.39" height="13.1" fill="#680a22"/>
<rect x="489.26" y="621.9" width="0.75" height="13.1" fill="#981a3a"/>
<rect x="490.43" y="621.9" width="2.39" height="13.1" fill="#680a22"/>
<rect x="491.63" y="621.9" width="0.75" height="13.1" fill="#981a3a"/>
<rect x="492.80" y="621.9" width="2.39" height="13.1" fill="#680a22"/>
<rect x="494.00" y="621.9" width="0.75" height="13.1" fill="#981a3a"/>
<rect x="495.18" y="621.9" width="2.39" height="13.1" fill="#680a22"/>
<rect x="496.38" y="621.9" width="0.75" height="13.1" fill="#981a3a"/>
<rect x="497.55" y="621.9" width="2.39" height="13.1" fill="#680a22"/>
<rect x="498.75" y="621.9" width="0.75" height="13.1" fill="#981a3a"/>
<rect x="499.93" y="621.9" width="2.39" height="13.1" fill="#680a22"/>
<rect x="501.13" y="621.9" width="0.75" height="13.1" fill="#981a3a"/>
<rect x="381.5" y="644.2" width="8.2" height="7.8" fill="#2c4b86"/>
<rect x="381.5" y="659.5" width="8.2" height="7.8" fill="#5fa83c"/>
<text x="12.5" y="25.5" font-size="18.5" font-weight="bold" textLength="11.82" lengthAdjust="spacingAndGlyphs">A</text>
<text x="13.7" y="382.3" font-size="18.5" font-weight="bold" textLength="10.65" lengthAdjust="spacingAndGlyphs">B</text>
<text x="176.3" y="382.3" font-size="18.5" font-weight="bold" textLength="10.7" lengthAdjust="spacingAndGlyphs">C</text>
<text x="352.7" y="382.3" font-size="18.5" font-weight="bold" textLength="11.72" lengthAdjust="spacingAndGlyphs">D</text>
<text x="353.1" y="591.7" font-size="18.5" font-weight="bold" textLength="9.95" lengthAdjust="spacingAndGlyphs">E</text>
<text x="64.9" y="44.2" font-size="14.342" font-style="italic">Follicular lymphoma</text>
<text x="65.8" y="303.3" font-size="14.401" font-style="italic">Diffuse large B-cell lymphoma</text>
<text x="228.5" y="48.2" font-size="11.1" font-style="italic">R1446 (26%)</text>
<text x="350.9" y="94.7" font-size="11.143" font-style="italic">Y1482 (9%)</text>
<text x="355.5" y="113.2" font-size="11.221" font-style="italic">Y1503 (7%)</text>
<text x="234.1" y="228.9" font-size="11.09" font-style="italic">R1446 (4%)</text>
<text x="354.1" y="229.7" font-size="11.262" font-style="italic">Y1503 (6%)</text>
<text x="351.5" y="251.2" font-size="11.025" font-style="italic">Y1482 (10%)</text>
<text x="314.2" y="286.0" font-size="14.264" font-style="italic">KAT</text>
<text x="304.0" y="302.7" font-size="13.921" font-style="italic">Domain</text>
<text x="173.2" y="350.5" font-size="14.5" textLength="45.62" lengthAdjust="spacingAndGlyphs">CREBBP</text>
<text x="224.4" y="350.5" font-size="14.5" textLength="38.3" lengthAdjust="spacingAndGlyphs">protein</text>
<text x="268.5" y="350.5" font-size="14.5" textLength="44.91" lengthAdjust="spacingAndGlyphs">position</text>
<text x="317.7" y="350.5" font-size="14.5" textLength="47.51" lengthAdjust="spacingAndGlyphs">(isoform</text>
<text x="368.2" y="350.5" font-size="14.5" textLength="12.6" lengthAdjust="spacingAndGlyphs">1)</text>
<text transform="translate(22.1,237.0) rotate(-90)" font-size="12.5" textLength="138.71" lengthAdjust="spacingAndGlyphs">% of <tspan font-style="italic">CREBBP</tspan> mutations</text>
<text x="41.9" y="389.4" font-size="13.951" font-style="italic">Follicular</text>
<text x="38.6" y="406.7" font-size="14.18" font-style="italic">lymphoma</text>
<text x="31.2" y="525.0" font-size="14.398" font-style="italic">Diffuse large</text>
<text x="19.6" y="541.7" font-size="14.242" font-style="italic">B-cell lymphoma</text>
<text x="208.9" y="389.4" font-size="14.275" font-style="italic">Follicular</text>
<text x="204.8" y="407.3" font-size="14.288" font-style="italic">lymphoma</text>
<text x="197.9" y="525.4" font-size="14.256" font-style="italic">Diffuse large</text>
<text x="184.3" y="542.4" font-size="14.255" font-style="italic">B-cell lymphoma</text>
<text transform="translate(156.2,549.4) rotate(-90)" font-size="11.779" font-style="italic">p&lt;0.001</text>
<text transform="translate(321.8,550.8) rotate(-90)" font-size="12.025" font-style="italic">p=0.0016</text>
<text x="34.9" y="651.9" font-size="11.285" font-style="italic">In KAT Domain</text>
<text x="34.9" y="666.2" font-size="11.292" font-style="italic">Outside KAT Domain</text>
<text x="206.1" y="651.7" font-size="11.135" font-style="italic">Missense/In-frame</text>
<text x="206.1" y="666" font-size="11.305" font-style="italic">Nonsense/Frameshift</text>
<text x="440.2" y="377.1" font-size="11.966" font-style="italic">p=0.026</text>
<text x="432.9" y="546.8" font-size="11.345" font-style="italic">WT</text>
<text x="465.2" y="546.8" font-size="12.094" font-style="italic">Mutant</text>
<text x="421.2" y="565.5" font-size="12.6" font-style="italic" textLength="46.81" lengthAdjust="spacingAndGlyphs">CREBBP</text>
<text x="471.0" y="565.5" font-size="14.5" textLength="33.9" lengthAdjust="spacingAndGlyphs">status</text>
<text transform="translate(373.4,512.2) rotate(-90)" font-size="14.5" textLength="27.0" lengthAdjust="spacingAndGlyphs">MYC</text>
<text transform="translate(373.4,483.0) rotate(-90)" font-size="14.5" textLength="34.3" lengthAdjust="spacingAndGlyphs">probe</text>
<text transform="translate(373.4,445.0) rotate(-90)" font-size="14.5" textLength="46.61" lengthAdjust="spacingAndGlyphs">intensity</text>
<text transform="translate(386,502.2) rotate(-90)" font-size="10.5" textLength="90.71" lengthAdjust="spacingAndGlyphs">(log2, 202431_s_at)</text>
<text x="416.9" y="586.6" font-size="11.988" font-style="italic">p=0.183</text>
<text x="371.9" y="601" font-size="10.761" font-style="italic">n=10</text>
<text x="399.7" y="601" font-size="11.205" font-style="italic">n=9</text>
<text x="447.6" y="601" font-size="11.191" font-style="italic">n=35</text>
<text x="393.1" y="652" font-size="11.257" font-style="italic">CREBBP Mutation</text>
<text x="393.1" y="665.9" font-size="11.248" font-style="italic">MYC Translocation</text>
<rect x="0" y="0" width="520" height="1.8" fill="#000"/><rect x="0" y="0" width="2" height="679" fill="#000"/><rect x="518" y="0" width="2" height="679" fill="#000"/><rect x="0" y="676.5" width="520" height="2.5" fill="#000"/>
</svg>
</body></html>
